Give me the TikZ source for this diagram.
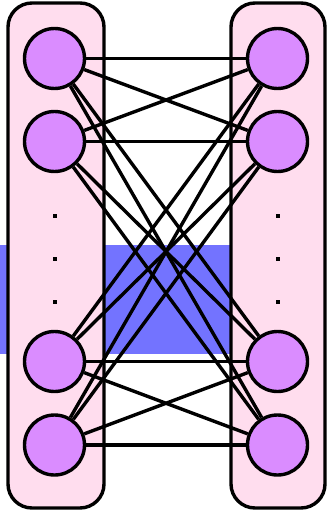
\documentclass[tikz,border=0pt]{standalone}
\definecolor{pinkbg}{RGB}{255,221,238}
\definecolor{nodefill}{RGB}{218,140,255}
\definecolor{bandblue}{RGB}{115,115,255}
\pgfdeclarelayer{back}
\pgfdeclarelayer{mid}
\pgfsetlayers{back,mid,main}
\tikzset{
  layerbox/.style={draw=black, line width=3.4pt, fill=pinkbg, rounded corners=24pt},
  neuron/.style={circle, draw=black, line width=3.4pt, fill=nodefill, minimum size=60pt, inner sep=0pt},
  link/.style={draw=black, line width=3.4pt},
  dotmark/.style={fill=black, minimum size=4pt, inner sep=0pt}
}
\begin{document}
\begin{tikzpicture}[x=1pt,y=-1pt]
\useasboundingbox (0,0) rectangle (327,511);
\begin{pgfonlayer}{back}
  \fill[bandblue] (0,245) rectangle (231,354);
  \draw[layerbox] (8,3) rectangle (104,508);
  \draw[layerbox] (231,3) rectangle (325,508);
\end{pgfonlayer}
% dots
\foreach \yy/\nm in {216/a,259/b,302/c}{
  \node[dotmark] (ld\nm) at (55,\yy) {};
  \node[dotmark] (rd\nm) at (278,\yy) {};
}
% nodes
\foreach \i/\yy in {1/58.5,2/141.5,3/361.5,4/445}{
  \node[neuron] (L\i) at (54.5,\yy) {};
  \node[neuron] (R\i) at (277.5,\yy) {};
}
% links
\begin{pgfonlayer}{mid}
\foreach \i in {1,2,3,4}{
  \foreach \j in {1,2,3,4}{
    \draw[link] (L\i) -- (R\j);
  }
}
\end{pgfonlayer}
\end{tikzpicture}
\end{document}
